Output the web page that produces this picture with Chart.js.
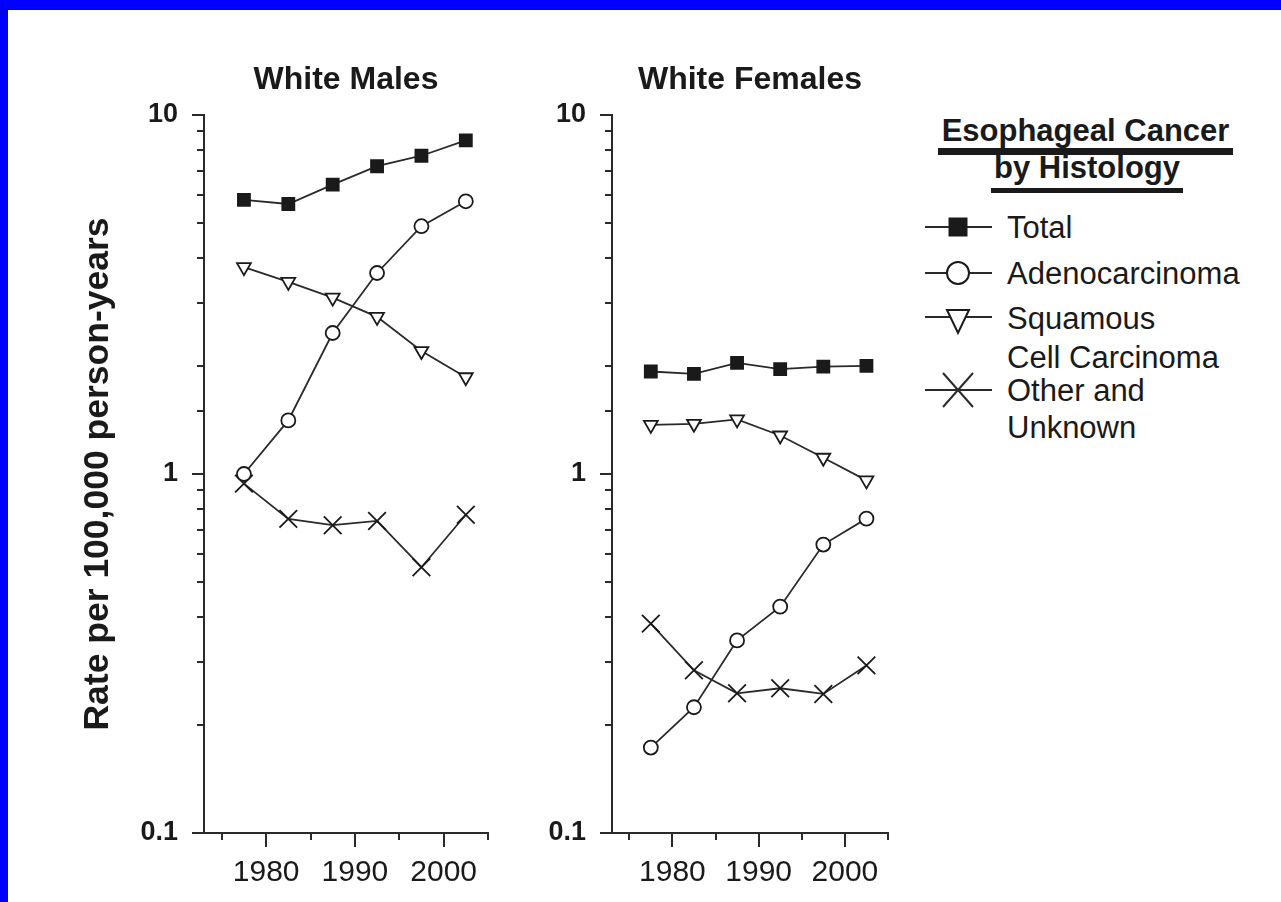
<!DOCTYPE html>
<html>
<head>
<meta charset="utf-8">
<script src="https://cdn.jsdelivr.net/npm/chart.js@4.4.1/dist/chart.umd.min.js"></script>
<style>
  html, body { margin: 0; padding: 0; }
  body { width: 1281px; height: 902px; background: #0000ff; position: relative; overflow: hidden; }
  #page { position: absolute; left: 8px; top: 10px; right: 0; bottom: 0; background: #fff; }
  canvas { position: absolute; }
  .lg { position: absolute; font-family: 'Liberation Sans', Arial, sans-serif; color: #1a1a1a; white-space: nowrap; }
  .item { font-size: 31px; line-height: 35px; left: 1007px; }
  .head { font-size: 31px; font-weight: bold; line-height: 35px; text-align: center; }
</style>
</head>
<body>
<div id="page"></div>
<canvas id="males" width="520" height="882" style="left:20px;top:20px"></canvas>
<canvas id="females" width="370" height="882" style="left:540px;top:20px"></canvas>

<div class="lg head" style="left:938px;top:113px;width:295px;height:35px;border-bottom:7px solid #1a1a1a">Esophageal Cancer</div>
<div class="lg head" style="left:991px;top:150px;width:192px;height:38px;border-bottom:5px solid #1a1a1a">by Histology</div>
<div class="lg item" style="top:210px">Total</div>
<div class="lg item" style="top:256px">Adenocarcinoma</div>
<div class="lg item" style="top:301px">Squamous</div>
<div class="lg item" style="top:340px">Cell Carcinoma</div>
<div class="lg item" style="top:373px">Other and</div>
<div class="lg item" style="top:410px">Unknown</div>
<svg style="position:absolute;left:915px;top:195px" width="90" height="230">
  <g stroke="#2a2a2a" stroke-width="2" fill="none">
    <line x1="10" y1="32" x2="77" y2="32"/>
    <line x1="10" y1="78" x2="77" y2="78"/>
    <line x1="10" y1="122" x2="77" y2="122"/>
    <line x1="10" y1="195" x2="77" y2="195"/>
    <line x1="28" y1="178" x2="58" y2="212"/>
    <line x1="58" y1="178" x2="28" y2="212"/>
  </g>
  <rect x="33.5" y="22.5" width="19" height="19" fill="#1a1a1a"/>
  <circle cx="43" cy="78" r="11" fill="#fff" stroke="#1a1a1a" stroke-width="2"/>
  <polygon points="32,115 54,115 43,138" fill="#fff" stroke="#1a1a1a" stroke-width="2"/>
</svg>

<script>
// 5-year periods, plotted at their midpoints
const periods = [1977.5, 1982.5, 1987.5, 1992.5, 1997.5, 2002.5];
const xTickYears = [1975, 1980, 1985, 1990, 1995, 2000, 2005];
const xLabelYears = [1980, 1990, 2000];
const yLabelValues = [0.1, 1, 10];
const seriesNames = ['Total', 'Adenocarcinoma', 'Squamous Cell Carcinoma', 'Other and Unknown'];

// White males, rate per 100,000 person-years
const maleTotal = [5.8, 5.65, 6.4, 7.2, 7.7, 8.5];
const maleAdeno = [1.0, 1.41, 2.47, 3.63, 4.9, 5.75];
const maleSquamous = [3.77, 3.43, 3.1, 2.74, 2.2, 1.86];
const maleOther = [0.94, 0.75, 0.72, 0.74, 0.55, 0.77];

// White females
const femaleTotal = [1.93, 1.9, 2.04, 1.96, 1.99, 2.0];
const femaleAdeno = [0.173, 0.224, 0.344, 0.427, 0.636, 0.751];
const femaleSquamous = [1.37, 1.38, 1.42, 1.28, 1.11, 0.96];
const femaleOther = [0.383, 0.284, 0.245, 0.253, 0.244, 0.293];

const FONT = "'Liberation Sans', Arial, sans-serif";
const INK = '#1a1a1a';
Chart.defaults.font.family = FONT;
Chart.defaults.color = INK;

const isDecade = v => Math.abs(Math.log10(v) - Math.round(Math.log10(v))) < 1e-6;

const tickMarks = {
  id: 'tickMarks',
  afterDraw(chart) {
    const { ctx, chartArea: a, scales: { x, y } } = chart;
    ctx.save();
    ctx.strokeStyle = '#2a2a2a';
    ctx.lineWidth = 2;
    ctx.beginPath();
    y.ticks.forEach(t => {
      const py = Math.round(y.getPixelForValue(t.value));
      const len = isDecade(t.value) ? 12 : 7;
      ctx.moveTo(a.left, py);
      ctx.lineTo(a.left - len, py);
    });
    x.ticks.forEach(t => {
      const px = Math.round(x.getPixelForValue(t.value));
      const len = xLabelYears.includes(t.value) ? 14 : 7;
      ctx.moveTo(px, a.bottom);
      ctx.lineTo(px, a.bottom + len);
    });
    ctx.stroke();
    ctx.restore();
  }
};

function makeDatasets(total, adeno, squamous, other) {
  const pts = vals => periods.map((p, i) => ({ x: p, y: vals[i] }));
  const base = { borderColor: '#2a2a2a', borderWidth: 1.8, pointBorderColor: INK, pointBorderWidth: 1.8, clip: false };
  return [
    { ...base, label: seriesNames[0], data: pts(total), pointStyle: 'rect', pointRadius: 8.5, pointBackgroundColor: INK },
    { ...base, label: seriesNames[1], data: pts(adeno), pointStyle: 'circle', pointRadius: 7, pointBackgroundColor: '#fff' },
    { ...base, label: seriesNames[2], data: pts(squamous), pointStyle: 'triangle', pointRotation: 180, pointRadius: 8, pointBackgroundColor: '#fff' },
    { ...base, label: seriesNames[3], data: pts(other), pointStyle: 'crossRot', pointRadius: 12.5, pointBackgroundColor: '#fff' }
  ];
}

function makeChart(id, title, datasets, yAxisWidth, showYTitle, padRight) {
  return new Chart(document.getElementById(id), {
    type: 'line',
    data: { datasets },
    plugins: [tickMarks],
    options: {
      responsive: false,
      animation: false,
      devicePixelRatio: 1,
      layout: { padding: { left: 0, right: padRight, top: 0, bottom: 9 } },
      plugins: {
        legend: { display: false },
        tooltip: { enabled: false },
        title: {
          display: true,
          text: title,
          fullSize: false,
          color: INK,
          font: { size: 32, weight: 'bold' },
          padding: { top: 40.5, bottom: 16.1 }
        }
      },
      scales: {
        x: {
          type: 'linear',
          min: 1973,
          max: 2005,
          afterBuildTicks: s => { s.ticks = xTickYears.map(v => ({ value: v })); },
          afterFit: s => { s.height = 60; },
          grid: { display: false, drawTicks: false },
          border: { display: true, color: '#2a2a2a', width: 2 },
          ticks: {
            autoSkip: false,
            maxRotation: 0,
            padding: 22,
            color: INK,
            font: { size: 30 },
            callback: v => xLabelYears.includes(v) ? String(v) : ''
          }
        },
        y: {
          type: 'logarithmic',
          min: 0.1,
          max: 10,
          afterFit: s => { s.width = yAxisWidth; },
          grid: { display: false, drawTicks: false },
          border: { display: true, color: '#2a2a2a', width: 2 },
          title: {
            display: showYTitle,
            text: 'Rate per 100,000 person-years',
            color: INK,
            font: { size: 35.5, weight: 'bold' },
            padding: { top: 57, bottom: 0 }
          },
          ticks: {
            autoSkip: false,
            padding: 26,
            color: INK,
            font: { size: 27, weight: 'bold' },
            callback: v => {
              const hit = yLabelValues.find(m => Math.abs(m - v) < 1e-9);
              return hit !== undefined ? String(hit) : '';
            }
          }
        }
      }
    }
  });
}

makeChart('males', 'White Males', makeDatasets(maleTotal, maleAdeno, maleSquamous, maleOther), 184, true, 52);
makeChart('females', 'White Females', makeDatasets(femaleTotal, femaleAdeno, femaleSquamous, femaleOther), 72, false, 14);
</script>
</body>
</html>
